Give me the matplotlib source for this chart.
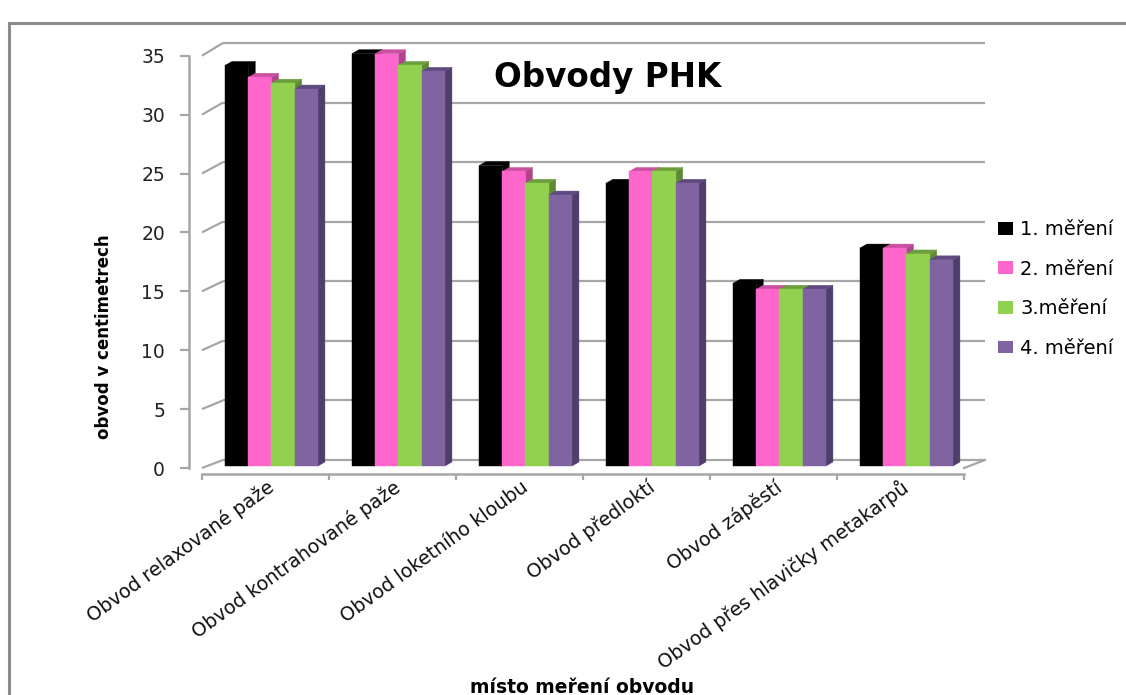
import matplotlib
matplotlib.use("Agg")
import matplotlib.pyplot as plt
from matplotlib.patches import Polygon, Patch, Rectangle

# ---- data -------------------------------------------------------------
categories = [
    "Obvod relaxované paže",
    "Obvod kontrahované paže",
    "Obvod loketního kloubu",
    "Obvod předloktí",
    "Obvod zápěstí",
    "Obvod přes hlavičky metakarpů",
]
series_labels = ["1. měření", "2. měření", "3.měření", "4. měření"]
mereni_1 = [34, 35, 25.5, 24, 15.5, 18.5]
mereni_2 = [33, 35, 25, 25, 15, 18.5]
mereni_3 = [32.5, 34, 24, 25, 15, 18]
mereni_4 = [32, 33.5, 23, 24, 15, 17.5]
y_ticks = [0, 5, 10, 15, 20, 25, 30, 35]

title = "Obvody PHK"
y_label = "obvod v centimetrech"
x_label = "místo meření obvodu"

# ---- styling ----------------------------------------------------------
front_colors = ["#000000", "#FF66CC", "#92D050", "#8064A2"]
top_colors = ["#000000", "#C9509F", "#6E9E3C", "#5F4A7F"]
side_colors = ["#000000", "#B0458B", "#5F8A33", "#4F3D6B"]
grid_color = "#A6A6A6"

W, H = 1126, 695
fig = plt.figure(figsize=(W / 100, H / 100), dpi=100)

# axes placed so that category 0..6 and value 0..35 land on the chart floor
px_per_x = 127.0
px_per_y = 11.78
x0_px, y0_px = 202.0, 468.0
xlim = (-0.1, 6.3)
ylim = (-0.5, 36.6)
left_px = x0_px + xlim[0] * px_per_x
right_px = x0_px + xlim[1] * px_per_x
bot_px = y0_px - ylim[0] * px_per_y
top_px = y0_px - ylim[1] * px_per_y
ax = fig.add_axes([left_px / W, 1 - bot_px / H,
                   (right_px - left_px) / W, (bot_px - top_px) / H])
ax.set_xlim(*xlim)
ax.set_ylim(*ylim)
ax.set_facecolor("none")

# depth of the 3-D room (walls and floor)
DX = 0.165
def depth_y(v):
    return 0.68 + (1.08 - 0.68) * v / 35.0

# side wall diagonals and back wall gridlines
n_cat = len(categories)
for v in y_ticks:
    d = depth_y(v)
    ax.plot([0, DX], [v, v + d], color=grid_color, lw=1.6, zorder=1,
            solid_capstyle="butt")
    ax.plot([DX, n_cat + DX], [v + d, v + d], color=grid_color, lw=1.6,
            zorder=1, solid_capstyle="butt")
ax.plot([n_cat, n_cat + DX], [0, depth_y(0)], color=grid_color, lw=1.6, zorder=1)

# bars drawn as front / top / side faces
GROUP_MARGIN = 0.155
BAR_W = 0.183
BASE = 0.17
BX, BY = 0.055, 0.34
all_series = [mereni_1, mereni_2, mereni_3, mereni_4]
z = 3.0
for i in range(n_cat):
    for k, vals in enumerate(all_series):
        v = vals[i]
        xl = i + GROUP_MARGIN + k * BAR_W + 0.026
        xr = xl + BAR_W
        top = BASE + v
        ax.add_patch(Polygon([(xr, BASE), (xr, top), (xr + BX, top + BY),
                              (xr + BX, BASE + BY)], closed=True,
                             facecolor=side_colors[k], edgecolor=side_colors[k],
                             lw=0.3, zorder=z))
        ax.add_patch(Polygon([(xl, top), (xr, top), (xr + BX, top + BY),
                              (xl + BX, top + BY)], closed=True,
                             facecolor=top_colors[k], edgecolor=top_colors[k],
                             lw=0.3, zorder=z))
        ax.bar(xl, v, width=BAR_W, bottom=BASE, align="edge",
               color=front_colors[k], edgecolor=front_colors[k], lw=0.3,
               zorder=z)
        z += 0.01

# axes lines and ticks
for s in ("top", "right"):
    ax.spines[s].set_visible(False)
for s in ("left", "bottom"):
    ax.spines[s].set_color(grid_color)
    ax.spines[s].set_linewidth(1.8)
    ax.spines[s].set_zorder(2)
ax.spines["left"].set_bounds(0, 35)
ax.spines["bottom"].set_bounds(0, n_cat)

ax.set_yticks(y_ticks)
ax.set_yticklabels([str(t) for t in y_ticks])
ax.tick_params(axis="y", direction="out", length=6.5, width=1.6,
               color=grid_color, pad=11, labelsize=13.5, labelcolor="#222222")

ax.set_xticks(range(n_cat + 1), minor=True)
ax.tick_params(axis="x", which="minor", direction="out", length=4.5,
               width=1.6, color=grid_color)
ax.set_xticks([i + 0.55 for i in range(n_cat)])
ax.set_xticklabels(categories, rotation=36, ha="right", va="center",
                   rotation_mode="anchor", fontsize=13.8, color="#111111")
ax.tick_params(axis="x", which="major", length=0, pad=8)

# texts
fig.text(608 / W, 1 - 87 / H, title, ha="center", va="baseline",
         fontsize=23.5, fontweight="bold", color="#000000")
fig.text(104 / W, 1 - 337 / H, y_label, rotation=90, ha="center",
         va="center", fontsize=12, fontweight="bold", family="DejaVu Sans")
fig.text(582 / W, 1 - 678 / H, x_label, ha="center", va="top",
         fontsize=13.5, fontweight="bold", color="#000000")

# legend
handles = [Patch(facecolor=c, edgecolor="none") for c in front_colors]
fig.legend(handles, series_labels, loc="upper left",
           bbox_to_anchor=(998 / W, 1 - 220 / H),
           bbox_transform=fig.transFigure, frameon=False, fontsize=14,
           handlelength=0.75, handleheight=0.65, handletextpad=0.4,
           labelspacing=1.06, borderpad=0, borderaxespad=0)

# surrounding frame
fig.add_artist(Rectangle((8.5 / W, -0.05), 1.2, 1 - 23 / H + 0.05,
                         transform=fig.transFigure, fill=False,
                         edgecolor="#8C8C8C", lw=2.2))

fig.savefig("out.png", dpi=100)
